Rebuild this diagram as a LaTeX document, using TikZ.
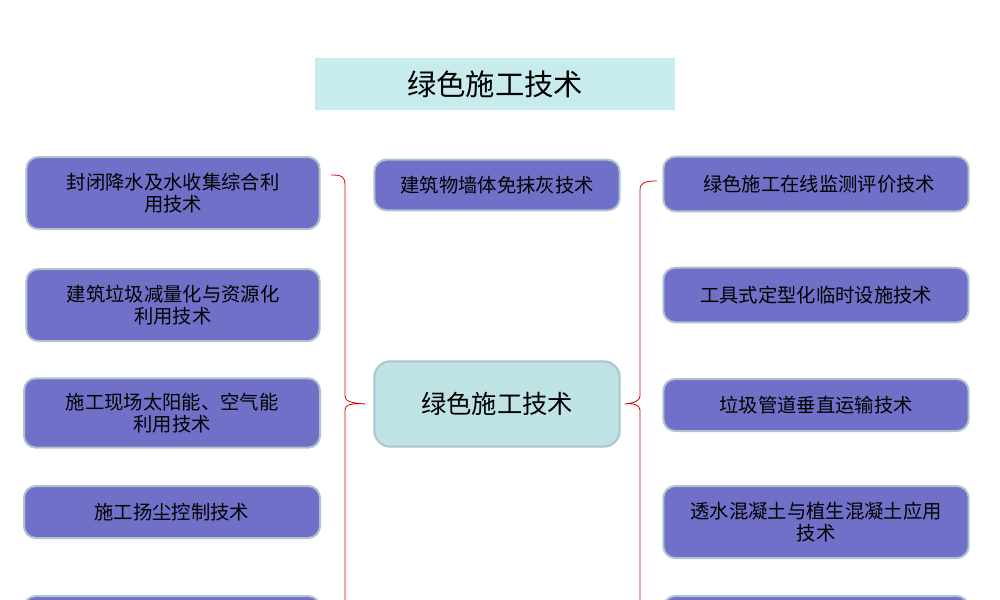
\documentclass[tikz,border=0pt]{standalone}
\usepackage{fontspec}
\newfontfamily\cjk{Noto Sans CJK SC}
\begin{document}
\begin{tikzpicture}[x=0.75pt,y=-0.75pt,
  item/.style={draw=gray!70!cyan!60,line width=1.5pt,fill=boxblue,rounded corners=9pt,
    align=center,font=\cjk\fontsize{14.5}{17}\selectfont,inner sep=0pt,text width=#1},
  item/.default=210pt,
  brace/.style={draw=red!85!black,line width=0.6pt}]
\definecolor{boxblue}{HTML}{7070C8}
\definecolor{titlebg}{HTML}{C8ECEE}
\definecolor{centerbg}{HTML}{BFE3E5}
\useasboundingbox (0,0) rectangle (1000,600);
\clip (0,0) rectangle (1000,600);
\node[fill=titlebg,minimum width=270pt,minimum height=39pt,font=\cjk\fontsize{22}{26}\selectfont] (title) at (495,84) {绿色施工技术};
% left column
\node[item,minimum width=220pt,minimum height=54pt] (l1) at (173,193) {封闭降水及水收集综合利\\用技术};
\node[item,minimum width=220pt,minimum height=54pt] (l2) at (173,305) {建筑垃圾减量化与资源化\\利用技术};
\node[item,minimum width=222pt,minimum height=52pt] (l3) at (172,413) {施工现场太阳能、空气能\\利用技术};
\node[item,minimum width=222pt,minimum height=39pt] (l4) at (172,512) {施工扬尘控制技术};
\node[item,minimum width=222pt,minimum height=54pt] (l5) at (172,632) {};
% middle
\node[item=180pt,minimum width=184pt,minimum height=38pt] (m1) at (497,185) {建筑物墙体免抹灰技术};
\node[draw=gray!70!cyan!60,line width=1.5pt,fill=centerbg,rounded corners=12pt,minimum width=184pt,minimum height=64pt,font=\cjk\fontsize{19}{22}\selectfont] (center) at (497,404) {绿色施工技术};
% right column
\node[item,minimum width=229pt,minimum height=41pt] (r1) at (816,184) {\ 绿色施工在线监测评价技术};
\node[item,minimum width=229pt,minimum height=41pt] (r2) at (816,295) {工具式定型化临时设施技术};
\node[item,minimum width=229pt,minimum height=39pt] (r3) at (816,405) {垃圾管道垂直运输技术};
\node[item,minimum width=229pt,minimum height=54pt] (r4) at (816,522) {透水混凝土与植生混凝土应用\\技术};
\node[item,minimum width=229pt,minimum height=54pt] (r5) at (816,632) {};
% braces
\coordinate (lt) at ([xshift=-6pt]center.west);
\path[brace] (331,175) .. controls (341,175) and (345,176) .. (345,185) -- (345,396)
  .. controls (345,401) and (350,403) .. (lt) .. controls (350,403) and (345,405) .. (345,410) -- (345,620);
\coordinate (rt) at ([xshift=3pt]center.east);
\path[brace] (657,181) .. controls (646,181) and (640,182) .. (640,190) -- (640,396)
  .. controls (640,401) and (634,403) .. (rt) .. controls (634,403) and (640,405) .. (640,410) -- (640,620);
\end{tikzpicture}
\end{document}
